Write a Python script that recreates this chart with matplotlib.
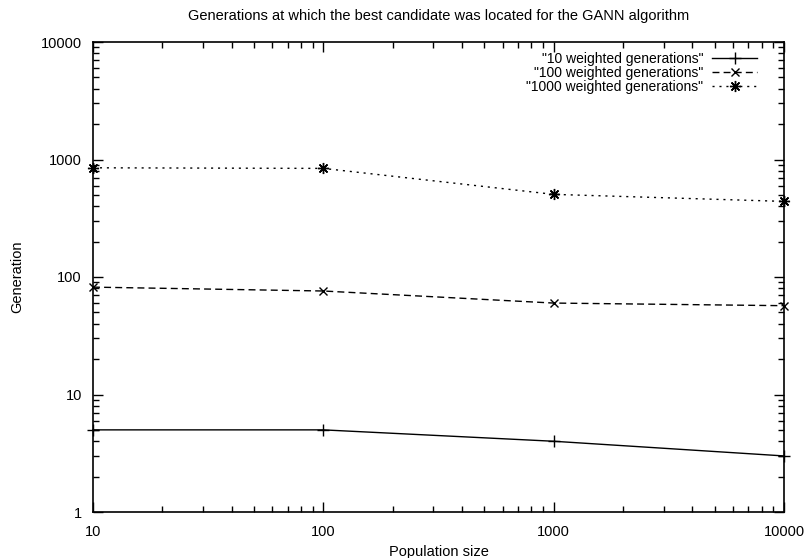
import matplotlib
matplotlib.use("Agg")
import matplotlib.pyplot as plt
from matplotlib.ticker import FixedLocator, LogLocator, NullFormatter

plt.rcParams['font.family'] = ['Liberation Sans', 'DejaVu Sans']

population = [10, 100, 1000, 10000]
gen10 = [5, 5, 4, 3]
gen100 = [82, 76, 60, 57]
gen1000 = [850, 840, 505, 440]

labels = ['"10 weighted generations"', '"100 weighted generations"', '"1000 weighted generations"']
title = "Generations at which the best candidate was located for the GANN algorithm"
xticks = [10, 100, 1000, 10000]
yticks = [1, 10, 100, 1000, 10000]

FS = 10.5
LFS = 10

fig = plt.figure(figsize=(8.06, 5.58), dpi=100)
ax = fig.add_axes([93/806, 1-512/558, (784-93)/806, (512-42)/558])

ax.plot(population, gen10, color='black', lw=1, marker='+', ms=8, mew=1, label=labels[0], clip_on=False)
ax.plot(population, gen100, color='black', lw=1, ls=(0, (5, 3)), marker='x', ms=6, mew=1, label=labels[1], clip_on=False)
ax.plot(population, gen1000, color='black', lw=1, ls=(0, (1.5, 3.5)), marker=(8, 2, 0), ms=8, mew=1, label=labels[2], clip_on=False)

ax.set_xscale('log')
ax.set_yscale('log')
ax.set_xlim(10, 10000)
ax.set_ylim(1, 10000)
ax.xaxis.set_major_locator(FixedLocator(xticks))
ax.yaxis.set_major_locator(FixedLocator(yticks))
ax.set_xticklabels([str(v) for v in xticks])
ax.set_yticklabels([str(v) for v in yticks])
ax.xaxis.set_minor_locator(LogLocator(base=10, subs=range(2, 10)))
ax.yaxis.set_minor_locator(LogLocator(base=10, subs=range(2, 10)))
ax.xaxis.set_minor_formatter(NullFormatter())
ax.yaxis.set_minor_formatter(NullFormatter())
ax.tick_params(which='both', direction='in', top=True, right=True, labelsize=FS, width=1)
ax.tick_params(which='major', length=7)
ax.tick_params(axis='x', which='major', pad=9)
ax.tick_params(axis='y', which='major', pad=8)
ax.tick_params(which='minor', length=4)
for s in ax.spines.values():
    s.set_linewidth(1.2)

ax.set_xlabel("Population size", fontsize=FS, labelpad=5)
ax.set_ylabel("Generation", fontsize=FS, labelpad=12)
ax.set_title(title, fontsize=FS, pad=16)

ax.legend(loc='upper right', frameon=False, markerfirst=False, fontsize=LFS,
          handlelength=3.3, labelspacing=0.0, borderaxespad=0.0,
          bbox_to_anchor=(1 - 21/691, 1 - 4/470), handletextpad=0.6)

fig.savefig("out.png", dpi=100)
